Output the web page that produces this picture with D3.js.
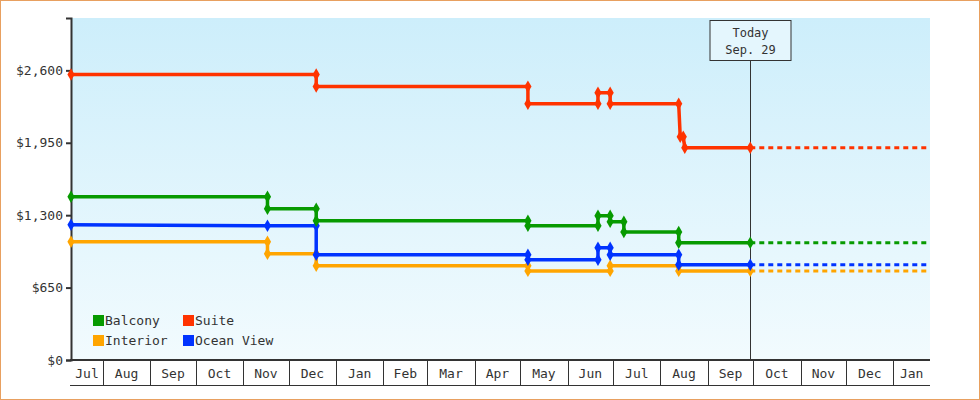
<!DOCTYPE html>
<html><head><meta charset="utf-8">
<script src="https://cdn.jsdelivr.net/npm/d3@7"></script>
<style>body{margin:0;background:#fff}svg{display:block}text{font-family:"DejaVu Sans Mono",monospace;fill:#333}</style>
</head><body><svg id="c" width="980" height="400"></svg>
<script>
const seriesNames = ["Balcony","Suite","Interior","Ocean View"];
const seriesColors = ["#079a00","#ff3300","#ffa500","#0033ff"];
const yTicks = [0,650,1300,1950,2600];
const startDate = "2023-07-11", endDate = "2025-01-25", todayDate = "2024-09-29";
const balconyDates = ["2023-07-11","2023-11-17","2023-11-17","2023-12-19","2023-12-19","2024-05-06","2024-05-06","2024-06-21","2024-06-21","2024-06-29","2024-06-29","2024-07-08","2024-07-08","2024-08-13","2024-08-13","2024-09-29"];
const balconyValues = [1465,1465,1357,1357,1250,1250,1205,1205,1295,1295,1240,1240,1150,1150,1052,1052];
const suiteDates = ["2023-07-11","2023-12-19","2023-12-19","2024-05-06","2024-05-06","2024-06-21","2024-06-21","2024-06-29","2024-06-29","2024-08-13","2024-08-14","2024-08-16","2024-08-17","2024-09-29"];
const suiteValues = [2562,2562,2454,2454,2300,2300,2400,2400,2300,2300,2005,2005,1906,1906];
const interiorDates = ["2023-07-11","2023-11-17","2023-11-17","2023-12-19","2023-12-19","2024-05-06","2024-05-06","2024-06-21","2024-06-29","2024-06-29","2024-08-13","2024-08-13","2024-09-29"];
const interiorValues = [1061,1061,953,953,845,845,800,800,800,845,845,800,800];
const oceanDates = ["2023-07-11","2023-11-17","2023-12-19","2023-12-19","2024-05-06","2024-05-06","2024-06-21","2024-06-21","2024-06-29","2024-06-29","2024-08-13","2024-08-13","2024-09-29"];
const oceanValues = [1214,1205,1205,944,944,899,899,1007,1007,944,944,854,854];
const seriesDates=[balconyDates,suiteDates,interiorDates,oceanDates];
const seriesValues=[balconyValues,suiteValues,interiorValues,oceanValues];

const P=d3.timeParse("%Y-%m-%d");
const svg=d3.select("#c");
const L=71,R=930,T=18,B=360;
const x=d3.scaleTime().domain([P(startDate),P(endDate)]).range([L,R]);
const y=d3.scaleLinear().domain([0,3070]).range([B,T]);
svg.append("rect").attr("x",0.5).attr("y",0.5).attr("width",979).attr("height",399).attr("fill","#fff").attr("stroke","#e8a060");
const g=svg.append("defs").append("linearGradient").attr("id","bg").attr("x1",0).attr("x2",0).attr("y1",0).attr("y2",1);
g.append("stop").attr("offset","0").attr("stop-color","#cdeefb");
g.append("stop").attr("offset","1").attr("stop-color","#f2fbfe");
svg.append("rect").attr("x",L).attr("y",T).attr("width",R-L).attr("height",B-T).attr("fill","url(#bg)");
// y axis
const ya=svg.append("g").attr("transform",`translate(${L},0)`).call(d3.axisLeft(y).tickValues(yTicks).tickSize(5).tickFormat(d=>"$"+d3.format(",")(d)));
ya.select(".domain").attr("stroke","#333").attr("stroke-width",2);
ya.selectAll("line").attr("stroke","#333").attr("stroke-width",2);
ya.selectAll("text").attr("font-size",13).attr("font-family","DejaVu Sans Mono").attr("fill","#333");
// x axis month boxes
const months=d3.timeMonth.range(d3.timeMonth.floor(P(startDate)),P(endDate));
const xa=svg.append("g");
xa.append("line").attr("x1",L-1).attr("x2",R).attr("y1",B).attr("y2",B).attr("stroke","#333").attr("stroke-width",2);
xa.append("line").attr("x1",L-1).attr("x2",R).attr("y1",385.5).attr("y2",385.5).attr("stroke","#333");
months.forEach(m=>{
  const a=Math.max(L,x(m)), b=Math.min(R,x(d3.timeMonth.offset(m,1)));
  if(x(m)>L) xa.append("line").attr("x1",Math.round(a)+0.5).attr("x2",Math.round(a)+0.5).attr("y1",B).attr("y2",385).attr("stroke","#333");
  xa.append("text").attr("x",(a+b)/2).attr("y",378).attr("text-anchor","middle").attr("font-size",13).text(d3.timeFormat("%b")(m));
});
// today line
const tx=Math.round(x(P(todayDate)))+0.5;
svg.append("line").attr("x1",tx).attr("x2",tx).attr("y1",60).attr("y2",B).attr("stroke","#333");
svg.append("rect").attr("x",tx-40.5).attr("y",20.5).attr("width",81).attr("height",40).attr("fill","#e4f6fd").attr("stroke","#333");
svg.append("text").attr("x",tx).attr("y",37).attr("text-anchor","middle").attr("font-size",12).text("Today");
svg.append("text").attr("x",tx).attr("y",54).attr("text-anchor","middle").attr("font-size",12).text("Sep. 29");
// series
const order=[2,3,0,1];
order.forEach(i=>{
  const pts=seriesDates[i].map((d,k)=>[x(P(d)),y(seriesValues[i][k])]);
  const last=pts[pts.length-1];
  svg.append("line").attr("x1",last[0]).attr("x2",R).attr("y1",last[1]).attr("y2",last[1]).attr("stroke",seriesColors[i]).attr("stroke-width",3).attr("stroke-dasharray","5,4");
  svg.append("path").attr("d",d3.line()(pts)).attr("fill","none").attr("stroke",seriesColors[i]).attr("stroke-width",3.5);
  const mk=[];
  pts.forEach((p,k)=>{ if(k==0||k==pts.length-1||pts[k-1][1]!==p[1]||(pts[k+1]&&pts[k+1][1]!==p[1])) mk.push(p);});
  svg.selectAll(null).data(mk).enter().append("path").attr("transform",p=>`translate(${p[0]},${p[1]})`).attr("d",d3.symbol(d3.symbolDiamond,45)).attr("fill",seriesColors[i]);
});
// legend
const lg=[[0,96,320],[1,186,320],[2,96,340],[3,186,340]];
lg.forEach(([i,lx,ly])=>{
  svg.append("rect").attr("x",lx-3).attr("y",ly-5).attr("width",11).attr("height",11).attr("fill",seriesColors[i]);
  svg.append("text").attr("x",lx+9).attr("y",ly+5).attr("font-size",13).text(seriesNames[i]);
});
</script></body></html>
